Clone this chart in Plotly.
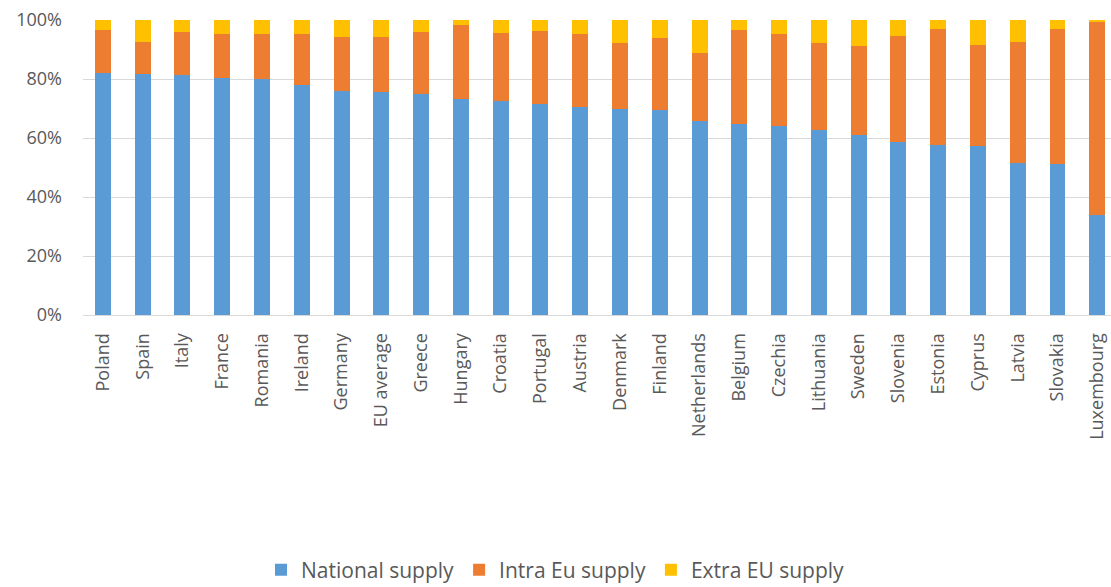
import plotly.graph_objects as go

countries = ["Poland", "Spain", "Italy", "France", "Romania", "Ireland", "Germany",
             "EU average", "Greece", "Hungary", "Croatia", "Portugal", "Austria",
             "Denmark", "Finland", "Netherlands", "Belgium", "Czechia", "Lithuania",
             "Sweden", "Slovenia", "Estonia", "Cyprus", "Latvia", "Slovakia", "Luxembourg"]

national_supply = [82.0, 81.7, 81.2, 80.4, 80.0, 77.8, 75.9, 75.7, 75.0, 73.2, 72.7, 71.4, 70.5,
                   69.8, 69.6, 65.8, 64.6, 64.2, 62.7, 61.1, 58.7, 57.6, 57.2, 51.5, 51.1, 33.8]
intra_eu_supply = [14.5, 11.0, 14.7, 14.7, 15.3, 17.4, 18.5, 18.7, 21.0, 25.2, 22.8, 25.0, 24.8,
                   22.3, 24.4, 22.9, 31.9, 31.1, 29.4, 30.0, 35.9, 39.4, 34.4, 41.1, 45.7, 65.7]
extra_eu_supply = [3.5, 7.3, 4.1, 4.9, 4.7, 4.8, 5.6, 5.6, 4.0, 1.6, 4.5, 3.6, 4.7,
                   7.9, 6.0, 11.3, 3.5, 4.7, 7.9, 8.9, 5.4, 3.0, 8.4, 7.4, 3.2, 0.5]

series = [
    ("National supply", national_supply, "#5B9BD5"),
    ("Intra Eu supply", intra_eu_supply, "#ED7D31"),
    ("Extra EU supply", extra_eu_supply, "#FFC000"),
]

FONT = "Open Sans, Liberation Sans, sans-serif"
GREY = "#595959"

fig = go.Figure()
for name, vals, color in series:
    fig.add_trace(go.Bar(
        x=countries, y=vals, name=name,
        marker=dict(color=color, line=dict(width=0)),
    ))

fig.update_layout(
    barmode="stack",
    bargap=0.6,
    width=1111, height=587,
    margin=dict(l=83, r=0, t=20, b=272),
    paper_bgcolor="white", plot_bgcolor="white",
    font=dict(family=FONT, color=GREY, size=17),
    legend=dict(orientation="h", xref="container", x=0.5, xanchor="center",
                yref="container", y=0.029, yanchor="middle",
                font=dict(size=21, color=GREY), traceorder="normal"),
    showlegend=True,
)
fig.update_xaxes(
    range=[-0.5, 25.344],
    tickangle=-90,
    showline=True, linecolor="#d9d9d9", linewidth=1,
    ticks="", showgrid=False,
    tickfont=dict(size=18, color=GREY),
    ticklabelstandoff=10,
)
fig.update_yaxes(
    range=[0, 100], dtick=20, ticksuffix="%",
    showgrid=True, gridcolor="#d9d9d9", gridwidth=1,
    zeroline=False, showline=False, ticks="",
    tickfont=dict(size=18, color=GREY),
    ticklabelstandoff=20,
)

fig.write_html("out.html", config={"displayModeBar": False},
               post_script="document.body.style.margin='0';")
